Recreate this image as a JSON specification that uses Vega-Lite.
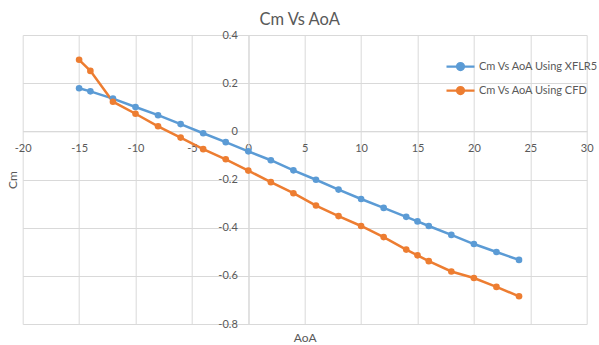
{
  "$schema": "https://vega.github.io/schema/vega-lite/v6.json",
  "width": 564,
  "height": 289,
  "autosize": {"type": "none"},
  "padding": {"left": 22.7, "top": 35, "right": 12.3, "bottom": 21},
  "background": "white",
  "title": {
    "text": "Cm Vs AoA",
    "font": "Lato",
    "fontSize": 16.5,
    "fontWeight": "normal",
    "color": "#595959",
    "anchor": "middle",
    "dx": -5,
    "dy": 21,
    "baseline": "middle",
    "offset": 14
  },
  "config": {
    "view": {"stroke": null},
    "axis": {
      "labelFont": "Lato",
      "labelFontSize": 11,
      "labelColor": "#595959",
      "titleFont": "Lato",
      "titleFontSize": 12,
      "titleFontWeight": "normal",
      "titleColor": "#595959",
      "gridColor": "#d9d9d9",
      "gridWidth": 1,
      "domainColor": "#d9d9d9",
      "ticks": false,
      "tickSize": 0,
      "labelOverlap": false,
      "labelFlush": false,
      "labelBound": false
    }
  },
  "data": {
    "values": [
      {"aoa": -15, "cm": 0.179, "series": "Cm Vs AoA Using XFLR5"},
      {"aoa": -14, "cm": 0.166, "series": "Cm Vs AoA Using XFLR5"},
      {"aoa": -12, "cm": 0.136, "series": "Cm Vs AoA Using XFLR5"},
      {"aoa": -10, "cm": 0.101, "series": "Cm Vs AoA Using XFLR5"},
      {"aoa": -8, "cm": 0.067, "series": "Cm Vs AoA Using XFLR5"},
      {"aoa": -6, "cm": 0.030, "series": "Cm Vs AoA Using XFLR5"},
      {"aoa": -4, "cm": -0.008, "series": "Cm Vs AoA Using XFLR5"},
      {"aoa": -2, "cm": -0.045, "series": "Cm Vs AoA Using XFLR5"},
      {"aoa": 0, "cm": -0.083, "series": "Cm Vs AoA Using XFLR5"},
      {"aoa": 2, "cm": -0.120, "series": "Cm Vs AoA Using XFLR5"},
      {"aoa": 4, "cm": -0.162, "series": "Cm Vs AoA Using XFLR5"},
      {"aoa": 6, "cm": -0.201, "series": "Cm Vs AoA Using XFLR5"},
      {"aoa": 8, "cm": -0.242, "series": "Cm Vs AoA Using XFLR5"},
      {"aoa": 10, "cm": -0.281, "series": "Cm Vs AoA Using XFLR5"},
      {"aoa": 12, "cm": -0.318, "series": "Cm Vs AoA Using XFLR5"},
      {"aoa": 14, "cm": -0.355, "series": "Cm Vs AoA Using XFLR5"},
      {"aoa": 15, "cm": -0.374, "series": "Cm Vs AoA Using XFLR5"},
      {"aoa": 16, "cm": -0.393, "series": "Cm Vs AoA Using XFLR5"},
      {"aoa": 18, "cm": -0.430, "series": "Cm Vs AoA Using XFLR5"},
      {"aoa": 20, "cm": -0.468, "series": "Cm Vs AoA Using XFLR5"},
      {"aoa": 22, "cm": -0.501, "series": "Cm Vs AoA Using XFLR5"},
      {"aoa": 24, "cm": -0.534, "series": "Cm Vs AoA Using XFLR5"},
      {"aoa": -15, "cm": 0.297, "series": "Cm Vs AoA Using CFD"},
      {"aoa": -14, "cm": 0.251, "series": "Cm Vs AoA Using CFD"},
      {"aoa": -12, "cm": 0.123, "series": "Cm Vs AoA Using CFD"},
      {"aoa": -10, "cm": 0.073, "series": "Cm Vs AoA Using CFD"},
      {"aoa": -8, "cm": 0.021, "series": "Cm Vs AoA Using CFD"},
      {"aoa": -6, "cm": -0.026, "series": "Cm Vs AoA Using CFD"},
      {"aoa": -4, "cm": -0.074, "series": "Cm Vs AoA Using CFD"},
      {"aoa": -2, "cm": -0.116, "series": "Cm Vs AoA Using CFD"},
      {"aoa": 0, "cm": -0.163, "series": "Cm Vs AoA Using CFD"},
      {"aoa": 2, "cm": -0.211, "series": "Cm Vs AoA Using CFD"},
      {"aoa": 4, "cm": -0.257, "series": "Cm Vs AoA Using CFD"},
      {"aoa": 6, "cm": -0.308, "series": "Cm Vs AoA Using CFD"},
      {"aoa": 8, "cm": -0.352, "series": "Cm Vs AoA Using CFD"},
      {"aoa": 10, "cm": -0.393, "series": "Cm Vs AoA Using CFD"},
      {"aoa": 12, "cm": -0.439, "series": "Cm Vs AoA Using CFD"},
      {"aoa": 14, "cm": -0.491, "series": "Cm Vs AoA Using CFD"},
      {"aoa": 15, "cm": -0.515, "series": "Cm Vs AoA Using CFD"},
      {"aoa": 16, "cm": -0.539, "series": "Cm Vs AoA Using CFD"},
      {"aoa": 18, "cm": -0.582, "series": "Cm Vs AoA Using CFD"},
      {"aoa": 20, "cm": -0.609, "series": "Cm Vs AoA Using CFD"},
      {"aoa": 22, "cm": -0.646, "series": "Cm Vs AoA Using CFD"},
      {"aoa": 24, "cm": -0.685, "series": "Cm Vs AoA Using CFD"}
    ]
  },
  "mark": {
    "type": "line",
    "strokeWidth": 2.5,
    "point": {"filled": true, "size": 44, "opacity": 1}
  },
  "encoding": {
    "x": {
      "field": "aoa",
      "type": "quantitative",
      "scale": {"domain": [-20, 30], "nice": false, "zero": false},
      "axis": {
        "title": "AoA",
        "offset": -192.67,
        "values": [-20, -15, -10, -5, 0, 5, 10, 15, 20, 25, 30],
        "labelExpr": "toString(datum.value)",
        "labelPadding": 11,
        "titleY": 201,
        "titleBaseline": "top"
      }
    },
    "y": {
      "field": "cm",
      "type": "quantitative",
      "scale": {"domain": [-0.8, 0.4], "nice": false, "zero": false},
      "axis": {
        "title": "Cm",
        "offset": -225.6,
        "values": [-0.8, -0.6, -0.4, -0.2, 0, 0.2, 0.4],
        "labelExpr": "toString(datum.value)",
        "labelPadding": 11,
        "titleX": -236,
        "titleBaseline": "middle",
        "titleAngle": -90
      }
    },
    "color": {
      "field": "series",
      "type": "nominal",
      "sort": null,
      "scale": {
        "domain": ["Cm Vs AoA Using XFLR5", "Cm Vs AoA Using CFD"],
        "range": ["#5B9BD5", "#ED7D31"]
      },
      "legend": {
        "title": null,
        "orient": "none",
        "legendX": 422.3,
        "legendY": 16,
        "symbolType": "M-1,0L1,0M0.25,0A0.25,0.25,0,1,1,-0.25,0A0.25,0.25,0,1,1,0.25,0Z",
        "symbolSize": 784,
        "symbolStrokeWidth": 2.25,
        "labelFont": "Lato",
        "labelFontSize": 11,
        "labelColor": "#595959",
        "labelOffset": 3,
        "rowPadding": -1,
        "labelLimit": 300,
        "encode": {
          "symbols": {
            "update": {
              "fill": {"scale": "color", "field": "value"},
              "stroke": {"scale": "color", "field": "value"},
              "opacity": {"value": 1}
            }
          }
        }
      }
    }
  }
}
